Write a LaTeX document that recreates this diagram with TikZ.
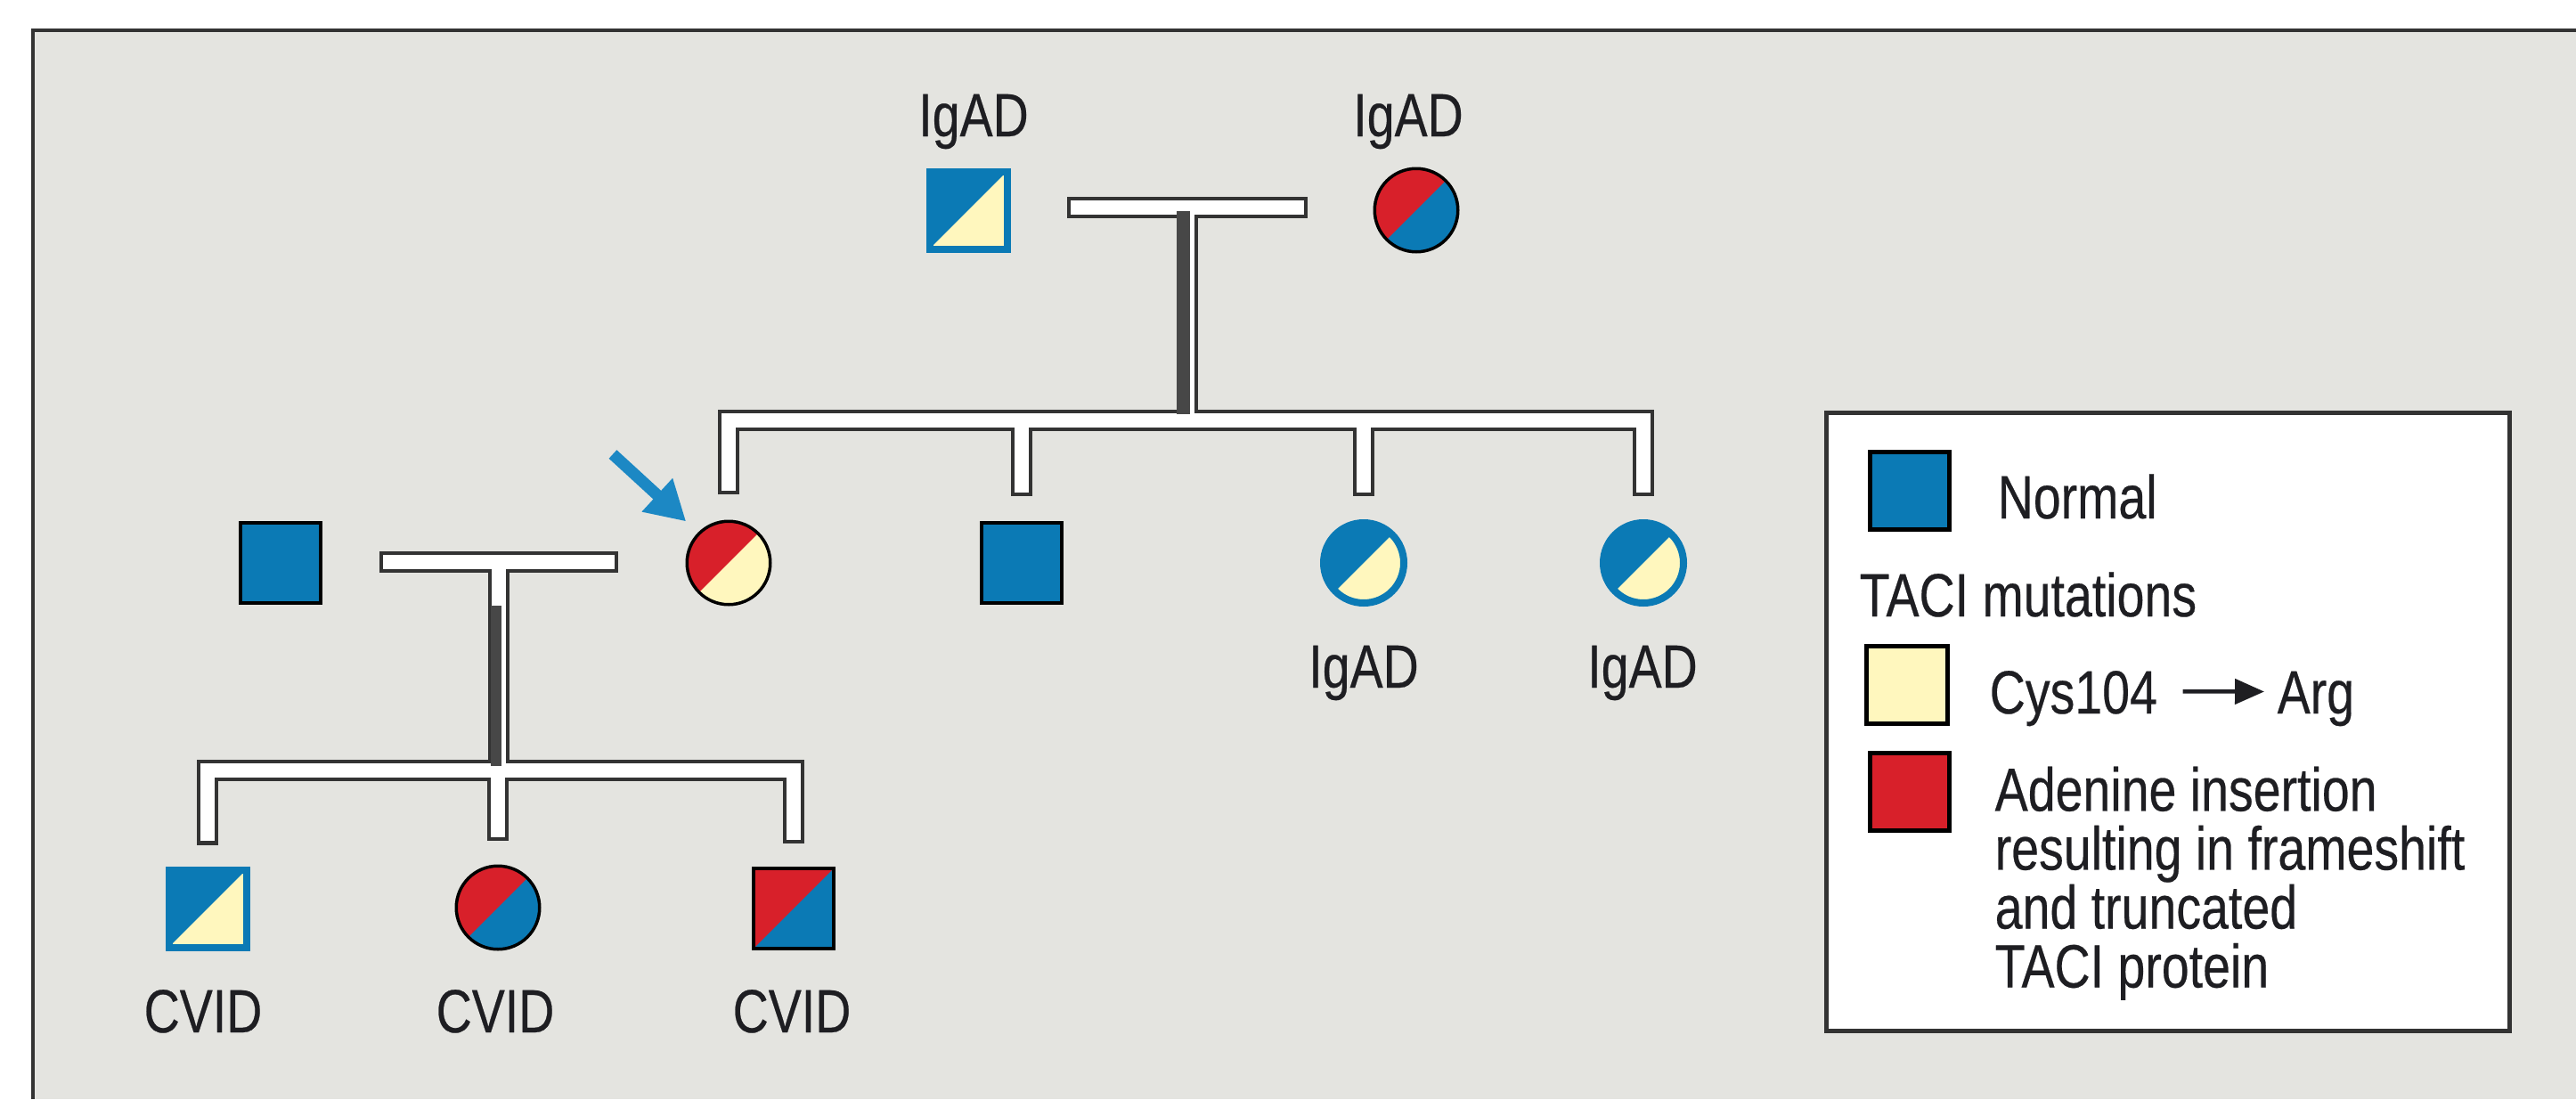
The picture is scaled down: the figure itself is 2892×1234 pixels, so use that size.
\documentclass[tikz,border=0pt]{standalone}
\usepackage{fontspec}
\setmainfont[FakeStretch=0.81,FakeBold=0.35]{Liberation Sans}
\usetikzlibrary{arrows.meta,positioning,calc}
\definecolor{paper}{HTML}{E4E4E0}
\definecolor{ink}{HTML}{1E1E22}
\definecolor{edge}{HTML}{333333}
\definecolor{stem}{HTML}{474747}
\definecolor{normblue}{HTML}{0B7AB5}
\definecolor{cysyel}{HTML}{FFF7BE}
\definecolor{adered}{HTML}{D8202A}
\definecolor{pointer}{HTML}{1C88C4}

\tikzset{
  person/.style={inner sep=0pt, outer sep=0pt, draw=black, line width=0.35mm},
  male/.style={person, rectangle, minimum size=9.0mm},
  female/.style={person, circle, minimum size=9.35mm},
  blueline/.style={draw=normblue, line width=0.8mm},
  halves/.style 2 args={fill=#1, path picture={
      \fill[#2] (path picture bounding box.south west) -- (path picture bounding box.north east) |- cycle;}},
  outerbar/.style={draw=edge, line width=2.4mm, line join=miter},
  innerbar/.style={draw=white, line width=1.55mm, line join=miter},
  stemline/.style={draw=stem, line width=1.4mm},
  lbl/.style={anchor=base, inner sep=0pt, text=ink},
  keytext/.style={anchor=base west, inner sep=0pt, text=ink},
  swatch/.style={draw=black, line width=0.45mm, inner sep=0pt, minimum width=8.9mm, minimum height=8.7mm},
}

\begin{document}
\begin{tikzpicture}[x=0.1mm,y=-0.1mm,font=\fontsize{19.5pt}{18.8pt}\selectfont]
\useasboundingbox (0,0) rectangle (2892,1234);
\fill[white] (0,0) rectangle (2892,1234);
\fill[paper] (37,34) rectangle (2892,1234);
\draw[edge, line width=0.45mm] (37,1234) -- (37,34) -- (2892,34);

% first generation
\node[male, blueline, halves={normblue}{cysyel}, minimum size=8.7mm] (gf) at (1087,236) {};
\node[female, halves={adered}{normblue}] (gm) at (1590,236) {};
\node[lbl] (gfl) at (1093,153) {IgAD};
\node[lbl] (gml) at (1581,153) {IgAD};
\coordinate (ml1) at (1198,233);
\coordinate (mr1) at (1468,233);
\coordinate (mc1) at (1333,233);
\coordinate (sb1) at (1333,472);

% second generation
\node[male, fill=normblue] (hb) at (315,632) {};
\node[female, halves={adered}{cysyel}] (pb) at (818,632) {};
\node[male, fill=normblue] (br) at (1147,632) {};
\node[female, blueline, halves={normblue}{cysyel}, minimum size=9.0mm] (s1) at (1531,632) {};
\node[female, blueline, halves={normblue}{cysyel}, minimum size=9.0mm] (s2) at (1845,632) {};
\node[lbl] (s1l) at (1531,772) {IgAD};
\node[lbl] (s2l) at (1844,772) {IgAD};
\coordinate (ml2) at (426,631);
\coordinate (mr2) at (694,631);
\coordinate (mc2) at (560,631);
\coordinate (sb2) at (560,865);

% third generation
\node[male, blueline, halves={normblue}{cysyel}, minimum size=8.7mm] (c1) at (233,1020) {};
\node[female, halves={adered}{normblue}] (c2) at (559,1019) {};
\node[male, halves={adered}{normblue}] (c3) at (891,1020) {};
\node[lbl] (c1l) at (228,1159) {CVID};
\node[lbl] (c2l) at (556,1159) {CVID};
\node[lbl] (c3l) at (889,1159) {CVID};

% pedigree lines: dark outline first, white core on top
\draw[outerbar] (ml1) -- (mr1);
\draw[outerbar] (mc1) -- (sb1);
\draw[outerbar, shorten <=3mm, shorten >=3mm] (pb.north) -- (pb.north |- sb1) -- (s2.north |- sb1) -- (s2.north);
\draw[outerbar, shorten >=3mm] (br.north |- sb1) -- (br.north);
\draw[outerbar, shorten >=3mm] (s1.north |- sb1) -- (s1.north);
\draw[outerbar] (ml2) -- (mr2);
\draw[outerbar] (mc2) -- (sb2);
\draw[outerbar, shorten <=2.8mm, shorten >=2.8mm] (c1.north) -- (c1.north |- sb2) -- (c3.north |- sb2) -- (c3.north);
\draw[outerbar, shorten >=2.8mm] (c2.north |- sb2) -- (c2.north);

\draw[innerbar, shorten <=0.42mm, shorten >=0.42mm] (ml1) -- (mr1);
\draw[innerbar] (mc1) -- (sb1);
\draw[innerbar, shorten <=3.42mm, shorten >=3.42mm] (pb.north) -- (pb.north |- sb1) -- (s2.north |- sb1) -- (s2.north);
\draw[innerbar, shorten >=3.42mm] (br.north |- sb1) -- (br.north);
\draw[innerbar, shorten >=3.42mm] (s1.north |- sb1) -- (s1.north);
\draw[innerbar, shorten <=0.42mm, shorten >=0.42mm] (ml2) -- (mr2);
\draw[innerbar] (mc2) -- (sb2);
\draw[innerbar, shorten <=3.22mm, shorten >=3.22mm] (c1.north) -- (c1.north |- sb2) -- (c3.north |- sb2) -- (c3.north);
\draw[innerbar, shorten >=3.22mm] (c2.north |- sb2) -- (c2.north);

\draw[stemline, line width=1.5mm, shorten <=0.4mm, shorten >=0.7mm] ([xshift=-0.45mm]mc1) -- ([xshift=-0.45mm]sb1);
\draw[stemline, line width=1.2mm, shorten <=4.9mm, shorten >=0.5mm] ([xshift=-0.35mm]mc2) -- ([xshift=-0.35mm]sb2);

% proband
\coordinate (arrtail) at (688,510);
\draw[pointer, line width=1.3mm, -{Triangle[length=4.4mm,width=4.8mm]}, shorten >=2.0mm] (arrtail) -- (pb.north west);

% key
\node[draw=edge, fill=white, line width=0.5mm, minimum width=76.7mm, minimum height=69.4mm, inner sep=0pt] (key) at (2433.5,810) {};
\node[swatch, fill=normblue] (kn) at (2144,551) {};
\node[keytext] (knt) at (2242,582) {Normal};
\node[keytext] (kmut) at (2087,692) {TACI mutations};
\node[swatch, fill=cysyel, minimum width=9.1mm] (kc) at (2141,769) {};
\node[keytext] (kct) at (2233,801) {Cys104};
\node[keytext] (kat) at (2556,801) {Arg};
\draw[ink, line width=0.45mm, -{Triangle[length=3.3mm,width=2.8mm]}, shorten <=2.8mm, shorten >=1.4mm]
  ([yshift=0.8mm]kct.east) -- ([yshift=0.8mm]kat.west);
\node[swatch, fill=adered] (ka) at (2144,889) {};
\node[keytext, anchor=north west, align=left] (kat2) at (2239,860)
  {Adenine insertion\\resulting in frameshift\\and truncated\\TACI protein};
\end{tikzpicture}
\end{document}
